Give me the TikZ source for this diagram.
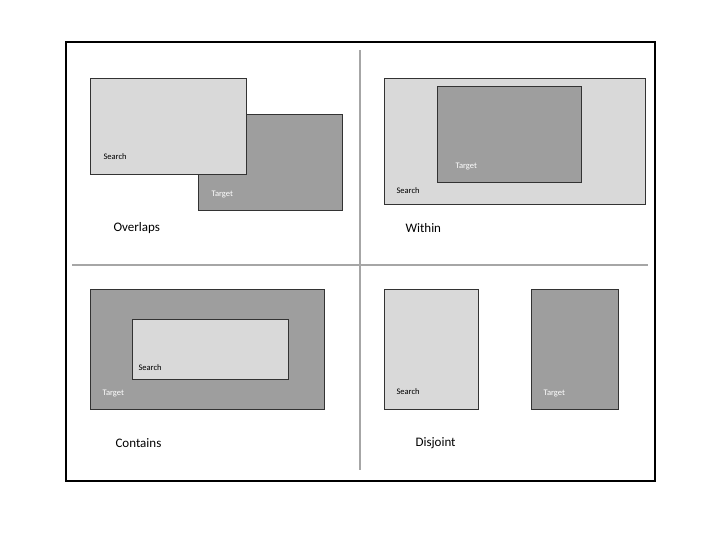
\documentclass[tikz,border=0pt]{standalone}
\usepackage{fontspec}
\setmainfont{Carlito}
\usetikzlibrary{positioning}
\tikzstyle{srch} = [draw=black!80, fill=black!15, line width=0.6pt]
\tikzstyle{trgt} = [draw=black!80, fill=black!38, line width=0.6pt]
\tikzstyle{tag} = [font=\fontsize{8.5}{10}\selectfont, anchor=west]
\tikzstyle{title} = [font=\fontsize{13}{15}\selectfont, anchor=west]
\tikzstyle{divider} = [draw=black!35, line width=1.5pt]
\begin{document}
\begin{tikzpicture}[x=1pt, y=-1pt]
\useasboundingbox (0,0) rectangle (720,540);
\draw[line width=1.3pt] (66,42) rectangle (655,481);
\coordinate (vtop) at (360,50);
\coordinate (vbot) at (360,470);
\coordinate (hleft) at (72,265);
\coordinate (hright) at (648,265);
\draw[divider] (vtop) -- (vbot);
\draw[divider] (hleft) -- (hright);
% overlaps
\draw[trgt] (198,114) rectangle (342,210);
\draw[srch] (90,78) rectangle (246,174);
\node[tag] (s1) at (100,157) {Search};
\node[tag, text=white] (t1) at (208,195) {Target};
\node[title] (o) at (110,228) {Overlaps};
% within
\draw[srch] (384,78) rectangle (645,204);
\draw[trgt] (437,86) rectangle (581,182);
\node[tag] (s2) at (393,191) {Search};
\node[tag, text=white] (t2) at (452,167) {Target};
\node[title] (w) at (402,228) {Within};
% contains
\draw[trgt] (90,289) rectangle (324,409);
\draw[srch] (132,319) rectangle (288,379);
\node[tag] (s3) at (135,368) {Search};
\node[tag, text=white] (t3) at (99,394) {Target};
\node[title] (c) at (112,443) {Contains};
% disjoint
\draw[srch] (384,289) rectangle (478,409);
\draw[trgt] (531,289) rectangle (618,409);
\node[tag] (s4) at (393,392) {Search};
\node[tag, text=white] (t4) at (540,394) {Target};
\node[title] (d) at (412,443) {Disjoint};
\end{tikzpicture}
\end{document}
